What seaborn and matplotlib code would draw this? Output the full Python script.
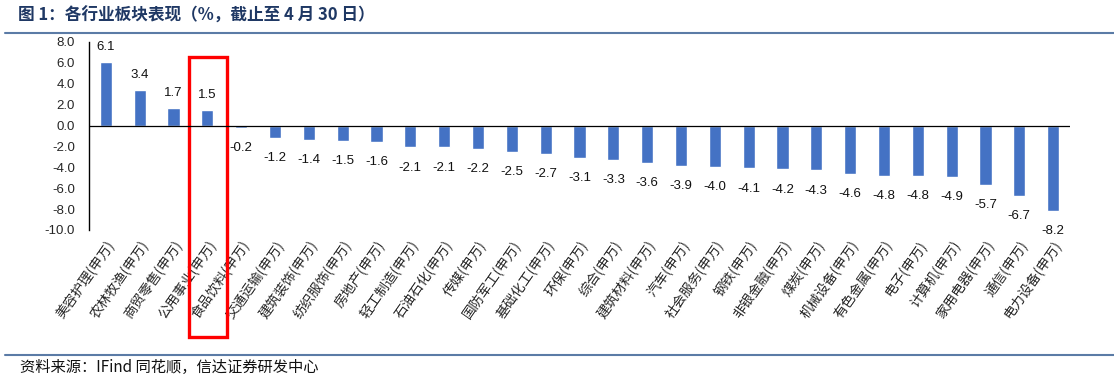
import seaborn as sns
import matplotlib.pyplot as plt
import matplotlib.transforms as mtransforms
from matplotlib.patches import Rectangle
from matplotlib.lines import Line2D
import pandas as pd

# industries (申万) and return to Apr 30, %
industries = ['美容护理', '农林牧渔', '商贸零售', '公用事业', '食品饮料', '交通运输', '建筑装饰',
              '纺织服饰', '房地产', '轻工制造', '石油石化', '传媒', '国防军工', '基础化工', '环保',
              '综合', '建筑材料', '汽车', '社会服务', '钢铁', '非银金融', '煤炭', '机械设备',
              '有色金属', '电子', '计算机', '家用电器', '通信', '电力设备']
returns = [6.1, 3.4, 1.7, 1.5, -0.2, -1.2, -1.4, -1.5, -1.6, -2.1, -2.1, -2.2, -2.5, -2.7, -3.1,
           -3.3, -3.6, -3.9, -4.0, -4.1, -4.2, -4.3, -4.6, -4.8, -4.8, -4.9, -5.7, -6.7, -8.2]
y_ticks = [8, 6, 4, 2, 0, -2, -4, -6, -8, -10]
highlight = 3  # index of the boxed bar

title = '图 1：各行业板块表现（%，截止至 4 月 30 日）'
source = '资料来源：IFind 同花顺，信达证券研发中心'


def main():
    df = pd.DataFrame({'行业': [f'{name}(申万)' for name in industries], '涨跌幅': returns})

    sns.set_theme(style='white')
    plt.rcParams['font.family'] = ['Noto Sans CJK SC', 'DejaVu Sans']

    fig = plt.figure(figsize=(11.14, 3.8), dpi=100)
    ax = fig.add_axes([89 / 1114, 1 - 230 / 380, (1070 - 89) / 1114, (230 - 42) / 380])

    sns.barplot(data=df, x='行业', y='涨跌幅', color='#4472C4', saturation=1,
                width=0.36, ax=ax)

    # value labels outside bar ends
    for i, v in enumerate(returns):
        off = 11 if v >= 0 else -14.5
        ax.annotate(f'{v:.1f}', (i, v), xytext=(0, off), textcoords='offset points',
                    ha='center', va='center', fontsize=9.5, family='Liberation Sans',
                    color='#111111')

    ax.set_xlim(-0.5, len(returns) - 0.5)
    ax.set_ylim(-10, 8)
    ax.set_yticks(y_ticks)
    ax.set_yticklabels([f'{t:.1f}' for t in y_ticks], family='Liberation Sans', fontsize=9.5)
    ax.axhline(0, color='black', lw=0.9)
    ax.set_xlabel('')
    ax.set_ylabel('')
    ax.tick_params(axis='both', length=0)
    ax.tick_params(axis='y', pad=10)
    ax.tick_params(axis='x', pad=6)
    for lab in ax.get_xticklabels():
        lab.set_rotation(55)
        lab.set_ha('right')
        lab.set_rotation_mode('anchor')
        lab.set_fontsize(9.8)
    for s in ['top', 'right', 'bottom']:
        ax.spines[s].set_visible(False)
    ax.spines['left'].set_color('black')
    ax.spines['left'].set_linewidth(1)

    # red highlight box
    trans = mtransforms.blended_transform_factory(ax.transData, fig.transFigure)
    ax.add_patch(Rectangle((highlight - 0.55, 1 - 337 / 380), 1.12, (337 - 57) / 380,
                           transform=trans, fill=False, edgecolor='#FF0000', lw=2.4,
                           clip_on=False))

    # title, rules, source
    fig.text(18 / 1114, 1 - 16 / 380, title, fontsize=12, fontweight='bold',
             color='#1F3864', va='center', ha='left')
    fig.add_artist(Line2D([5 / 1114, 1], [1 - 33 / 380] * 2, color='#5B7BA6', lw=1.5,
                          transform=fig.transFigure))
    fig.add_artist(Line2D([5 / 1114, 1], [1 - 355 / 380] * 2, color='#5B7BA6', lw=1.5,
                          transform=fig.transFigure))
    fig.text(20 / 1114, 1 - 367 / 380, source, fontsize=11, style='italic',
             color='#111111', va='center', ha='left')

    fig.savefig('out.png', dpi=100)


if __name__ == '__main__':
    main()
